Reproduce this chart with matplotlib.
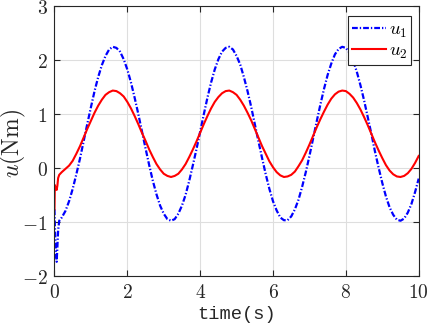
import numpy as np
import matplotlib
matplotlib.use("Agg")
import matplotlib.pyplot as plt
from matplotlib.ticker import FuncFormatter

plt.rcParams['mathtext.fontset'] = 'cm'

# start-up transient (time in s, torque in Nm)
t_start = [0.0, 0.01, 0.03, 0.06, 0.08, 0.10, 0.13]
u1_start = [-0.76, -1.05, -1.45, -1.73, -1.45, -1.15, -0.97]
u2_start = [-0.76, -0.31, -0.36, -0.40, -0.32, -0.18, -0.12]

# after that: values read every 0.1 s from t = 0.2 to 10
t_grid = np.round(np.arange(0.2, 10.001, 0.1), 1)

u1_grid = [-0.91, -0.79, -0.61, -0.38, -0.11, 0.18, 0.50, 0.82, 1.13, 1.43,
           1.69, 1.91, 2.08, 2.20, 2.25, 2.23, 2.16, 2.02, 1.83, 1.59,
           1.31, 1.01, 0.69, 0.37, 0.06, -0.23, -0.48, -0.69, -0.84, -0.94,
           -0.97, -0.94, -0.84, -0.69, -0.49, -0.23, 0.06, 0.36, 0.68, 1.00,
           1.31, 1.59, 1.83, 2.02, 2.16, 2.23, 2.25, 2.20, 2.08, 1.92,
           1.69, 1.43, 1.14, 0.82, 0.50, 0.19, -0.11, -0.38, -0.61, -0.78,
           -0.91, -0.96, -0.96, -0.89, -0.76, -0.58, -0.34, -0.07, 0.23, 0.55,
           0.87, 1.18, 1.47, 1.73, 1.94, 2.11, 2.21, 2.25, 2.23, 2.14,
           1.99, 1.79, 1.54, 1.26, 0.95, 0.64, 0.31, 0.01, -0.27, -0.52,
           -0.72, -0.86, -0.95, -0.97, -0.93, -0.82, -0.66, -0.44, -0.19]

u2_grid = [-0.07, -0.01, 0.05, 0.14, 0.27, 0.41, 0.57, 0.73, 0.88, 1.03,
           1.16, 1.27, 1.36, 1.41, 1.44, 1.43, 1.39, 1.33, 1.23, 1.11,
           0.97, 0.82, 0.66, 0.51, 0.35, 0.21, 0.08, -0.02, -0.10, -0.14,
           -0.16, -0.14, -0.10, -0.02, 0.08, 0.21, 0.35, 0.50, 0.66, 0.82,
           0.97, 1.11, 1.23, 1.32, 1.39, 1.43, 1.44, 1.41, 1.36, 1.27,
           1.16, 1.03, 0.89, 0.73, 0.57, 0.41, 0.27, 0.13, 0.02, -0.07,
           -0.13, -0.16, -0.15, -0.12, -0.06, 0.04, 0.15, 0.29, 0.44, 0.60,
           0.76, 0.91, 1.05, 1.18, 1.29, 1.37, 1.42, 1.44, 1.43, 1.38,
           1.31, 1.21, 1.09, 0.95, 0.80, 0.64, 0.48, 0.33, 0.19, 0.06,
           -0.04, -0.11, -0.15, -0.16, -0.14, -0.09, -0.01, 0.10, 0.23]

t = np.concatenate([t_start, t_grid])
u1 = np.concatenate([u1_start, u1_grid])
u2 = np.concatenate([u2_start, u2_grid])

fig = plt.figure(figsize=(4.29, 3.31), dpi=100)
ax = fig.add_axes([0.127, 0.165, 0.849, 0.816])

ax.plot(t, u1, color='blue', linestyle=(0, (2.6, 0.9, 0.6, 0.9)), linewidth=1.6, label=r'$u_1$')
ax.plot(t, u2, color='red', linestyle='-', linewidth=1.5, label=r'$u_2$')

ax.set_xlim(0, 10)
ax.set_ylim(-2, 3)
ax.set_xticks(np.arange(0, 11, 2))
ax.set_yticks(np.arange(-2, 4, 1))
ax.xaxis.set_major_formatter(FuncFormatter(lambda v, p: r'$%d$' % v))
ax.yaxis.set_major_formatter(FuncFormatter(lambda v, p: r'$%d$' % v))

ax.grid(True, color='#dedede', linewidth=0.8)
ax.set_axisbelow(True)
for s in ax.spines.values():
    s.set_color('#262626')
    s.set_linewidth(0.8)
ax.tick_params(direction='in', length=4, width=0.8, color='#262626',
               top=True, right=True, labelsize=14, labelcolor='#262626', pad=5)

ax.set_xlabel('time(s)', fontfamily='Liberation Mono', fontsize=13.5, color='#262626', labelpad=3)
ax.set_ylabel(r'$u(\mathrm{Nm})$', fontsize=17, color='#262626', va='center')
ax.yaxis.set_label_coords(-0.112, 0.49)

leg = ax.legend(loc='upper right', bbox_to_anchor=(0.979, 0.964), borderaxespad=0,
                fontsize=13.5, frameon=True, fancybox=False, framealpha=1,
                edgecolor='#262626', handlelength=1.8, handletextpad=0.15,
                borderpad=0.2, labelspacing=0.05)
leg.get_frame().set_linewidth(0.8)

fig.savefig('out.png', dpi=100)
